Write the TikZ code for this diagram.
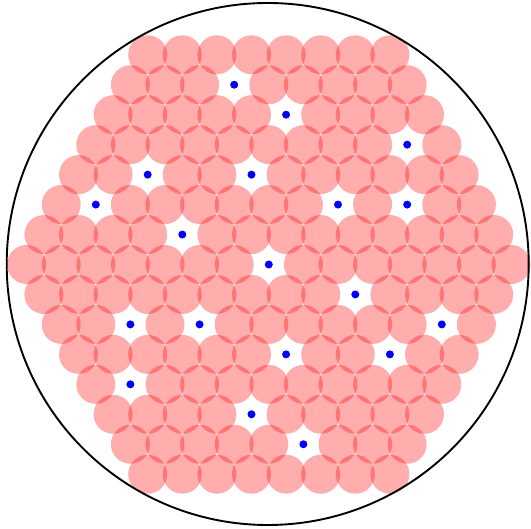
\documentclass[tikz,border=0pt]{standalone}
\tikzset{
  cellstyle/.style={fill=red, fill opacity=0.32},
  dotstyle/.style={fill=blue},
  rimstyle/.style={draw=black, line width=1.9pt}
}
\def\missinglist{,-6/-2,-5/1,-4/8,-3/-7,-3/-1,-2/4,-2/8,-2/-10,-1/-5,0/0,1/5,2/-8,2/-4,2/10,3/1,3/7,4/-8,5/-1,6/2,}
\makeatletter
\newcommand\drawcell[2]{%
  \edef\tmpa{\noexpand\in@{,#1/#2,}{\missinglist}}\tmpa
  \ifin@
    \fill[dotstyle] ({268.8+17.3*(#2)},{264.5-29.96*(#1)}) circle[radius=4pt];
  \else
    \fill[cellstyle] ({268.8+17.3*(#2)},{264.5-29.96*(#1)}) circle[radius=19.5pt];
  \fi}
\makeatother
\begin{document}
\begin{tikzpicture}[x=1pt,y=1pt]
  \useasboundingbox (0,0) rectangle (531,529);
  \foreach \cj in {-7,...,7}{
    \pgfmathtruncatemacro\m{14-abs(\cj)}
    \pgfmathtruncatemacro\mm{-\m}
    \pgfmathtruncatemacro\mn{-\m+2}
    \foreach \ch in {\mm,\mn,...,\m}{\drawcell{\cj}{\ch}}
  }
  \coordinate (rimc) at (267.7,265);
  \draw[rimstyle] (rimc) circle[radius=261pt];
\end{tikzpicture}
\end{document}
